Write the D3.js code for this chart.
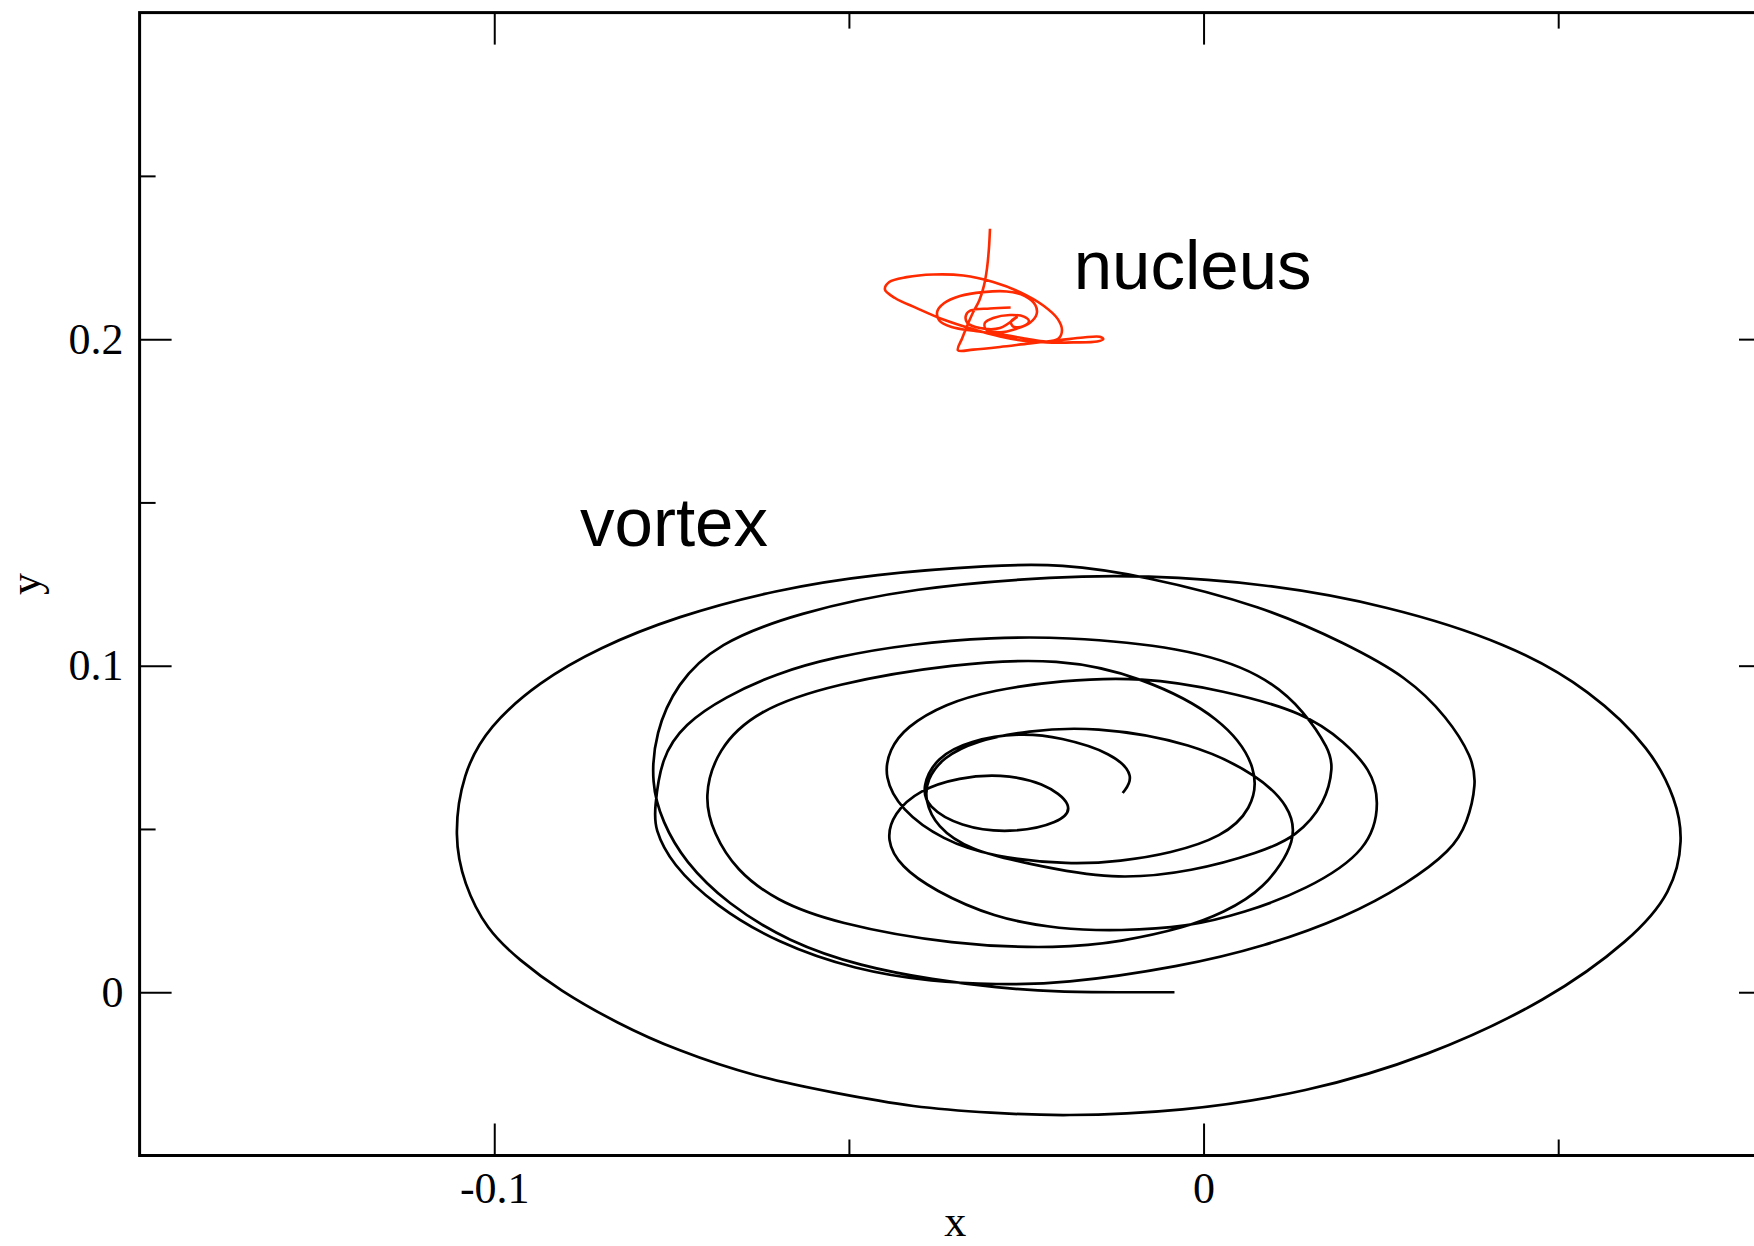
<!DOCTYPE html>
<html>
<head>
<meta charset="utf-8">
<script src="https://cdn.jsdelivr.net/npm/d3@7"></script>
<style>
  html, body { margin: 0; padding: 0; background: #fff; }
  svg { display: block; }
</style>
</head>
<body>
<div id="chart"></div>
<script>
// vortex and nucleus trajectories (data units)
const vortexPath = [
  [-0.0041,0.0000],[-0.0120,0.0000],[-0.0202,0.0000],[-0.0293,0.0014],[-0.0380,0.0038],[-0.0483,0.0079],
  [-0.0585,0.0154],[-0.0672,0.0271],[-0.0732,0.0401],[-0.0763,0.0521],[-0.0779,0.0640],
  [-0.0773,0.0795],[-0.0743,0.0945],[-0.0686,0.1068],[-0.0574,0.1161],[-0.0409,0.1240],[-0.0202,0.1274],
  [-0.0087,0.1277],[0.0085,0.1253],[0.0259,0.1185],[0.0431,0.1068],[0.0546,0.0925],[0.0632,0.0743],
  [0.0666,0.0589],[0.0677,0.0469],[0.0661,0.0305],[0.0603,0.0161],[0.0487,-0.0024],[0.0315,-0.0199],
  [0.0144,-0.0308],[-0.0030,-0.0366],[-0.0202,-0.0380],[-0.0297,-0.0370],[-0.0409,-0.0353],[-0.0521,-0.0308],
  [-0.0631,-0.0260],[-0.0743,-0.0178],[-0.0826,-0.0096],[-0.0909,0.0007],[-0.0965,0.0099],[-0.1011,0.0192],
  [-0.1043,0.0332],[-0.1057,0.0476],
  [-0.1045,0.0670],[-0.1008,0.0815],[-0.0937,0.0950],[-0.0853,0.1055],[-0.0743,0.1151],[-0.0603,0.1233],
  [-0.0464,0.1281],[-0.0297,0.1308],[-0.0202,0.1312],[-0.0087,0.1277],[0.0085,0.1182],[0.0200,0.1068],
  [0.0287,0.0966],[0.0344,0.0842],[0.0379,0.0719],[0.0385,0.0640],[0.0372,0.0517],[0.0350,0.0435],
  [0.0287,0.0332],[0.0200,0.0229],[0.0085,0.0140],[-0.0030,0.0079],[-0.0202,0.0024],[-0.0293,0.0024],
  [-0.0380,0.0031],[-0.0491,0.0068],[-0.0601,0.0151],[-0.0688,0.0264],[-0.0751,0.0394],[-0.0774,0.0503],
  [-0.0774,0.0558],
  [-0.0765,0.0719],[-0.0732,0.0822],[-0.0675,0.0904],[-0.0603,0.0976],[-0.0521,0.1027],[-0.0409,0.1068],
  [-0.0297,0.1086],[-0.0202,0.1089],[-0.0030,0.1058],[0.0085,0.0976],[0.0144,0.0856],[0.0177,0.0743],
  [0.0183,0.0692],[0.0172,0.0579],[0.0131,0.0476],[0.0079,0.0428],[-0.0014,0.0370],[-0.0128,0.0342],
  [-0.0249,0.0394],[-0.0330,0.0435],[-0.0377,0.0507],[-0.0393,0.0589],[-0.0390,0.0651],[-0.0368,0.0719],
  [-0.0320,0.0771],[-0.0249,0.0801],[-0.0156,0.0815],[-0.0014,0.0764],[0.0079,0.0661],[0.0120,0.0572],
  [0.0134,0.0469],[0.0085,0.0312],[0.0027,0.0243],[-0.0024,0.0199],[-0.0117,0.0154],[-0.0202,0.0134],
  [-0.0352,0.0144],[-0.0521,0.0212],[-0.0603,0.0281],[-0.0659,0.0373],[-0.0691,0.0486],[-0.0705,0.0599],
  [-0.0686,0.0743],[-0.0631,0.0863],[-0.0521,0.0945],[-0.0352,0.1007],[-0.0202,0.1024],[-0.0087,0.0966],
  [0.0027,0.0842],[0.0079,0.0682],[0.0068,0.0558],[0.0027,0.0476],[-0.0047,0.0425],[-0.0117,0.0401],
  [-0.0188,0.0390],[-0.0297,0.0414],[-0.0368,0.0466],[-0.0427,0.0558],[-0.0451,0.0661],[-0.0443,0.0743],
  [-0.0420,0.0812],[-0.0364,0.0884],[-0.0297,0.0925],[-0.0202,0.0955],[-0.0087,0.0966],[0.0027,0.0925],
  [0.0144,0.0856],[0.0200,0.0764],[0.0235,0.0682],[0.0249,0.0589],[0.0235,0.0435],[0.0144,0.0312],
  [0.0057,0.0243],[-0.0024,0.0199],[-0.0117,0.0188],[-0.0202,0.0192],[-0.0297,0.0229],[-0.0380,0.0312],
  [-0.0427,0.0384],[-0.0448,0.0466],[-0.0437,0.0548],[-0.0401,0.0620],[-0.0344,0.0658],[-0.0287,0.0668],
  [-0.0226,0.0644],[-0.0181,0.0572],[-0.0202,0.0517],[-0.0273,0.0486],[-0.0344,0.0507],[-0.0390,0.0568],
  [-0.0397,0.0630],[-0.0377,0.0719],[-0.0330,0.0771],[-0.0259,0.0795],[-0.0202,0.0781],[-0.0128,0.0733],
  [-0.0096,0.0661],[-0.0114,0.0610]
];

const nucleusPath = [
  [-0.03011,0.2338],[-0.03026,0.2277],[-0.03054,0.2215],[-0.03096,0.2164],[-0.03162,0.2118],[-0.03247,0.2083],
  [-0.03331,0.2042],[-0.03406,0.2001],[-0.03463,0.1966],[-0.03247,0.1968],[-0.02870,0.1976],[-0.02448,0.1987],
  [-0.02025,0.1997],[-0.01696,0.2005],[-0.01461,0.2007],[-0.01414,0.2000],[-0.01499,0.1993],[-0.01837,0.1990],
  [-0.02212,0.1990],[-0.02542,0.1995],[-0.02870,0.2008],[-0.03247,0.2030],[-0.03669,0.2060],[-0.04045,0.2095],
  [-0.04351,0.2126],[-0.04492,0.2152],[-0.04431,0.2175],[-0.04186,0.2190],[-0.03810,0.2198],[-0.03388,0.2195],
  [-0.02965,0.2175],[-0.02588,0.2144],[-0.02260,0.2103],[-0.02057,0.2062],[-0.01996,0.2027],[-0.02048,0.2001],
  [-0.02212,0.1993],[-0.02494,0.2001],[-0.02824,0.2013],[-0.03199,0.2024],[-0.03552,0.2037],[-0.03726,0.2057],
  [-0.03754,0.2085],[-0.03660,0.2110],[-0.03434,0.2132],[-0.03106,0.2144],[-0.02776,0.2146],[-0.02518,0.2132],
  [-0.02373,0.2105],[-0.02353,0.2077],[-0.02448,0.2050],[-0.02635,0.2032],[-0.02870,0.2021],[-0.03068,0.2030],
  [-0.03082,0.2050],[-0.02965,0.2065],[-0.02729,0.2074],[-0.02532,0.2069],[-0.02462,0.2055],[-0.02542,0.2040],
  [-0.02683,0.2038],[-0.02715,0.2054],[-0.02635,0.2067],[-0.02870,0.2034],[-0.03152,0.2034],[-0.03331,0.2050],
  [-0.03350,0.2073],[-0.03284,0.2088],[-0.03011,0.2094],[-0.02720,0.2097]
];

const xDomain = [-0.15, 0.08];
const yDomain = [-0.05, 0.3];
const xMajorTicks = [-0.1, 0];
const xMinorTicks = [-0.05, 0.05];
const yMajorTicks = [0, 0.1, 0.2];
const yMinorTicks = [0.05, 0.15, 0.25];

const labels = [
  { text: 'nucleus', x: -0.0183, y: 0.2155 },
  { text: 'vortex', x: -0.0879, y: 0.1366 }
];

const width = 1754, height = 1246;
const plotLeft = 139.6, plotRight = 1771, plotTop = 12.6, plotBottom = 1155.5;

const x = d3.scaleLinear().domain(xDomain).range([plotLeft, plotRight]);
const y = d3.scaleLinear().domain(yDomain).range([plotBottom, plotTop]);

const svg = d3.select('#chart').append('svg')
  .attr('width', width)
  .attr('height', height);

const fmt = (d) => (d === 0 ? '0' : String(d));
const serif = "'Liberation Serif', 'Times New Roman', serif";
const sans = "'Liberation Sans', Helvetica, Arial, sans-serif";

function styleAxis(g) {
  g.select('.domain').remove();
  g.selectAll('line').attr('stroke', '#000').attr('stroke-width', 2);
  g.selectAll('text')
    .attr('fill', '#000')
    .attr('font-family', serif)
    .attr('font-size', 44);
}

// bottom axis
svg.append('g')
  .attr('transform', `translate(0,${plotBottom})`)
  .call(d3.axisBottom(x).tickValues(xMajorTicks).tickSize(-32).tickPadding(16).tickFormat(fmt))
  .call(styleAxis);
svg.append('g')
  .attr('transform', `translate(0,${plotBottom})`)
  .call(d3.axisBottom(x).tickValues(xMinorTicks).tickSize(-16).tickFormat(''))
  .call(styleAxis);

// top axis
svg.append('g')
  .attr('transform', `translate(0,${plotTop})`)
  .call(d3.axisTop(x).tickValues(xMajorTicks).tickSize(-32).tickFormat(''))
  .call(styleAxis);
svg.append('g')
  .attr('transform', `translate(0,${plotTop})`)
  .call(d3.axisTop(x).tickValues(xMinorTicks).tickSize(-16).tickFormat(''))
  .call(styleAxis);

// left axis
svg.append('g')
  .attr('transform', `translate(${plotLeft},0)`)
  .call(d3.axisLeft(y).tickValues(yMajorTicks).tickSize(-32).tickPadding(16).tickFormat(fmt))
  .call(styleAxis);
svg.append('g')
  .attr('transform', `translate(${plotLeft},0)`)
  .call(d3.axisLeft(y).tickValues(yMinorTicks).tickSize(-16).tickFormat(''))
  .call(styleAxis);

// right axis
svg.append('g')
  .attr('transform', `translate(${plotRight},0)`)
  .call(d3.axisRight(y).tickValues(yMajorTicks).tickSize(-32).tickFormat(''))
  .call(styleAxis);
svg.append('g')
  .attr('transform', `translate(${plotRight},0)`)
  .call(d3.axisRight(y).tickValues(yMinorTicks).tickSize(-16).tickFormat(''))
  .call(styleAxis);

// frame
svg.append('rect')
  .attr('x', plotLeft)
  .attr('y', plotTop)
  .attr('width', plotRight - plotLeft)
  .attr('height', plotBottom - plotTop)
  .attr('fill', 'none')
  .attr('stroke', '#000')
  .attr('stroke-width', 3);

// trajectories: the vortex path is smoothed with a B-spline,
// the tight nucleus tangle goes through its points
const vortexLine = d3.line()
  .x((d) => x(d[0]))
  .y((d) => y(d[1]))
  .curve(d3.curveBasis);

const nucleusLine = d3.line()
  .x((d) => x(d[0]))
  .y((d) => y(d[1]))
  .curve(d3.curveCatmullRom.alpha(0.5));

svg.append('path')
  .datum(vortexPath)
  .attr('d', vortexLine)
  .attr('fill', 'none')
  .attr('stroke', '#000')
  .attr('stroke-width', 2.7);

svg.append('path')
  .datum(nucleusPath)
  .attr('d', nucleusLine)
  .attr('fill', 'none')
  .attr('stroke', '#ff2a00')
  .attr('stroke-width', 2.6);

// annotations
svg.selectAll('text.note')
  .data(labels)
  .join('text')
  .attr('class', 'note')
  .attr('x', (d) => x(d.x))
  .attr('y', (d) => y(d.y))
  .attr('font-family', sans)
  .attr('font-size', 69)
  .attr('fill', '#000')
  .text((d) => d.text);

// axis titles
svg.append('text')
  .attr('x', (plotLeft + plotRight) / 2)
  .attr('y', 1236)
  .attr('text-anchor', 'middle')
  .attr('font-family', serif)
  .attr('font-size', 44)
  .text('x');

svg.append('text')
  .attr('transform', `translate(40,${(plotTop + plotBottom) / 2}) rotate(-90)`)
  .attr('text-anchor', 'middle')
  .attr('font-family', serif)
  .attr('font-size', 44)
  .text('y');
</script>
</body>
</html>
